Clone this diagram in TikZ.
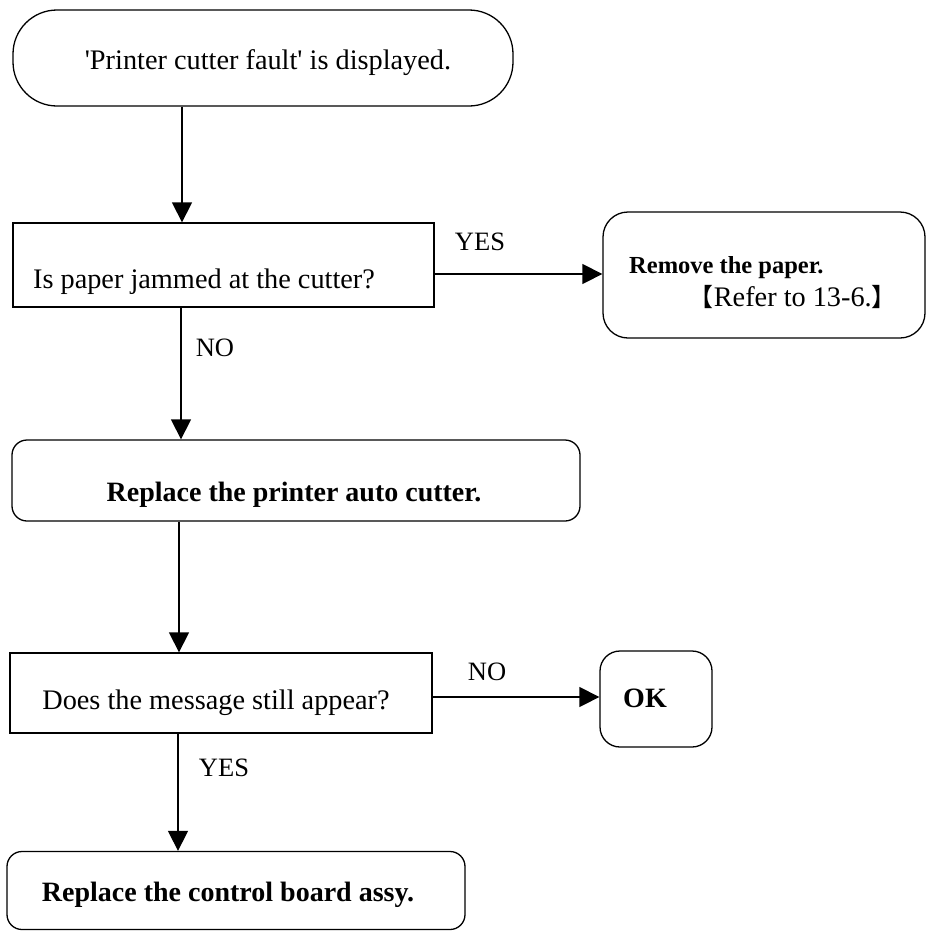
\documentclass[tikz,border=0pt]{standalone}
\usepackage{fontspec}
\setmainfont{Liberation Serif}
\newfontfamily\cjkfont{Noto Sans CJK JP}
\usetikzlibrary{arrows.meta}

\begin{document}
\begin{tikzpicture}[x=1pt,y=-1pt,
  txt/.style={font=\fontsize{28.3}{30}\selectfont, inner sep=0pt},
  btxt/.style={txt, font=\fontsize{28}{30}\selectfont\bfseries},
  lbl/.style={txt, font=\fontsize{26.5}{30}\selectfont},
  sbox/.style 2 args={draw, line width=1.3pt, rectangle, inner sep=0pt,
    minimum width=#1pt, minimum height=#2pt},
  arr/.style={-{Triangle[length=20pt,width=20pt]}, line width=1.3pt}]
\useasboundingbox (0,0) rectangle (927,932);

% boxes
\node[sbox={500}{96}, rounded corners=44pt] (start) at (263,58) {};
\node[sbox={421}{84}] (q1) at (223.5,265) {};
\node[sbox={322}{126}, rounded corners=25pt] (rem) at (764,275) {};
\node[sbox={568}{81}, rounded corners=15pt] (cut) at (296,480.5) {};
\node[sbox={422}{80}] (q2) at (221,693) {};
\node[sbox={112}{96}, rounded corners=20pt] (ok) at (656,699) {};
\node[sbox={458}{78}, rounded corners=15pt] (board) at (236,890.5) {};

% texts
\node[txt] (startT) at (268,63) {\textquotesingle Printer cutter fault\textquotesingle{} is displayed.};
\node[txt] (q1T) at (204,282) {Is paper jammed at the cutter?};
\node[btxt, anchor=west, font=\fontsize{24.5}{30}\selectfont\bfseries] (remA) at (629,268) {Remove the paper.};
\node[txt, anchor=east] (remB) at (897,297) {{\cjkfont\fontsize{25}{30}\selectfont 【}Refer to 13-6.{\cjkfont\fontsize{25}{30}\selectfont 】}};
\node[btxt] (cutT) at (294,495) {Replace the printer auto cutter.};
\node[txt] (q2T) at (216,703) {Does the message still appear?};
\node[btxt] (okT) at (645,698) {OK};
\node[btxt] (boardT) at (228,895) {Replace the control board assy.};

% branch labels
\node[lbl] (lyes1) at (480,242) {YES};
\node[lbl] (lno1) at (215,348) {NO};
\node[lbl] (lno2) at (487,672) {NO};
\node[lbl] (lyes2) at (224,768) {YES};

% connector positions
\coordinate (x1) at (182,0);
\coordinate (x2) at (181,0);
\coordinate (x3) at (179,0);
\coordinate (x4) at (178,0);
\coordinate (y1) at (0,274);
\coordinate (y2) at (0,697);

% connectors
\draw[arr] (start.south -| x1) -- (q1.north -| x1);
\draw[arr] (q1.south -| x2) -- (cut.north -| x2);
\draw[arr] (cut.south -| x3) -- (q2.north -| x3);
\draw[arr] (q2.south -| x4) -- (board.north -| x4);
\draw[arr] (q1.east |- y1) -- (rem.west |- y1);
\draw[arr] (q2.east |- y2) -- (ok.west |- y2);
\end{tikzpicture}
\end{document}
